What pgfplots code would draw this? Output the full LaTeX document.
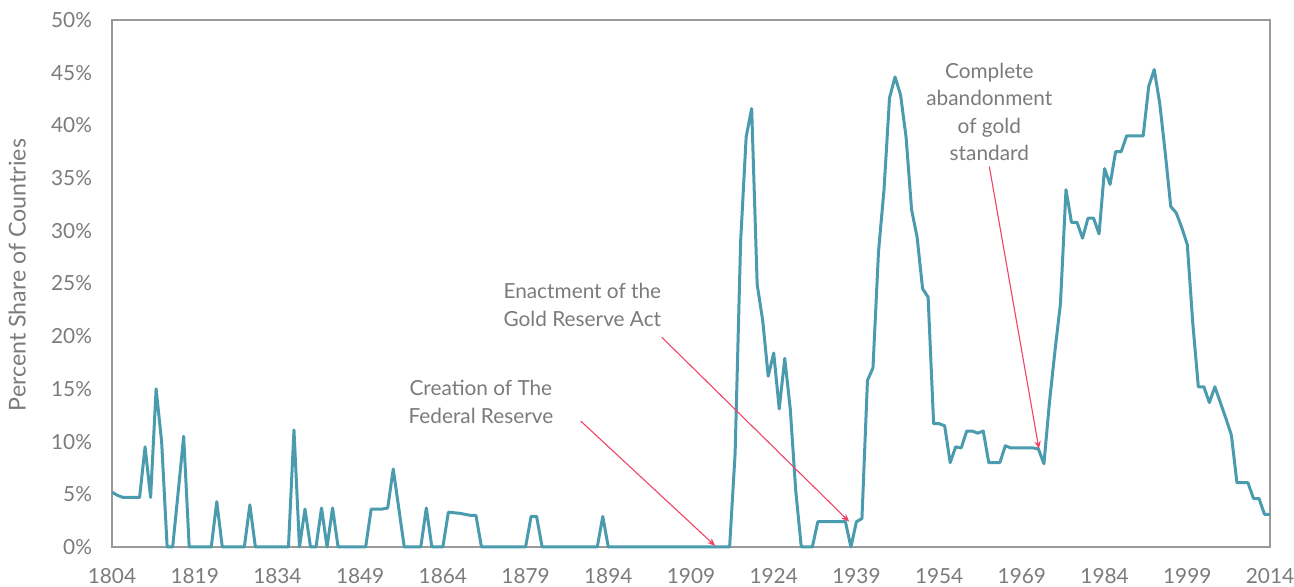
\documentclass[border=0pt]{standalone}
\usepackage{pgfplots}
\pgfplotsset{compat=1.18}
\usepackage{fontspec}
\setmainfont{Lato}
\usetikzlibrary{arrows.meta}
\definecolor{linec}{HTML}{4A9BAE}
\definecolor{arrc}{HTML}{EF4468}
\definecolor{txtc}{HTML}{7B7B7B}
\definecolor{framec}{HTML}{9A9A9A}
\begin{document}
\begin{tikzpicture}
\begin{axis}[
  at={(0,0)}, anchor=south west,
  scale only axis,
  width=579pt, height=263.5pt,
  xmin=1804, xmax=2014, ymin=0, ymax=50,
  xtick={1804,1819,...,2014},
  ytick={0,5,...,50},
  yticklabel={\pgfmathprintnumber{\tick}\%},
  /pgf/number format/assume math mode=true,
  /pgf/number format/1000 sep={},
  tick style={draw=none},
  axis line style={draw=framec, line width=0.6pt},
  ticklabel style={font=\fontsize{10.4}{12}\selectfont, text=txtc},
  xticklabel style={yshift=-7pt},
  yticklabel style={xshift=-6.5pt},
  ylabel={Percent Share of Countries},
  ylabel style={at={(axis description cs:-0.0818,0.516)}, anchor=center, font=\fontsize{11.6}{13}\selectfont, text=txtc},
  clip=false,
]
\addplot[linec, line width=1.5pt, line join=round] coordinates {
(1804,5.2)(1805,4.9)(1806,4.7)(1807,4.7)(1808,4.7)(1809,4.7)(1810,9.5)(1811,4.7)(1812,15.0)(1813,10.0)
(1814,0)(1815,0)(1816,5.2)(1817,10.5)(1818,0)(1819,0)(1820,0)(1821,0)(1822,0)(1823,4.3)
(1824,0)(1825,0)(1826,0)(1827,0)(1828,0)(1829,4.0)(1830,0)(1831,0)(1832,0)(1833,0)
(1834,0)(1835,0)(1836,0)(1837,11.1)(1838,0)(1839,3.6)(1840,0)(1841,0)(1842,3.7)(1843,0)
(1844,3.7)(1845,0)(1846,0)(1847,0)(1848,0)(1849,0)(1850,0)(1851,3.6)(1852,3.6)(1853,3.6)
(1854,3.7)(1855,7.4)(1856,3.7)(1857,0)(1858,0)(1859,0)(1860,0)(1861,3.7)(1862,0)(1863,0)
(1864,0)(1865,3.3)(1866,3.25)(1867,3.2)(1868,3.1)(1869,3.0)(1870,3.0)(1871,0)(1872,0)(1873,0)
(1874,0)(1875,0)(1876,0)(1877,0)(1878,0)(1879,0)(1880,2.9)(1881,2.9)(1882,0)(1883,0)
(1884,0)(1885,0)(1886,0)(1887,0)(1888,0)(1889,0)(1890,0)(1891,0)(1892,0)(1893,2.9)
(1894,0)(1895,0)(1896,0)(1897,0)(1898,0)(1899,0)(1900,0)(1901,0)(1902,0)(1903,0)
(1904,0)(1905,0)(1906,0)(1907,0)(1908,0)(1909,0)(1910,0)(1911,0)(1912,0)(1913,0)
(1914,0)(1915,0)(1916,0)(1917,8.9)(1918,29.0)(1919,38.9)(1920,41.6)(1921,24.9)(1922,21.5)(1923,16.2)
(1924,18.4)(1925,13.1)(1926,17.9)(1927,13.1)(1928,5.3)(1929,0)(1930,0)(1931,0)(1932,2.4)(1933,2.4)
(1934,2.4)(1935,2.4)(1936,2.4)(1937,2.4)(1938,0)(1939,2.4)(1940,2.7)(1941,15.8)(1942,17.0)(1943,28.0)
(1944,33.9)(1945,42.6)(1946,44.6)(1947,42.9)(1948,38.9)(1949,32.0)(1950,29.4)(1951,24.5)(1952,23.7)(1953,11.7)
(1954,11.7)(1955,11.5)(1956,8.0)(1957,9.5)(1958,9.4)(1959,11.0)(1960,11.0)(1961,10.8)(1962,11.0)(1963,8.0)
(1964,8.0)(1965,8.0)(1966,9.6)(1967,9.4)(1968,9.4)(1969,9.4)(1970,9.4)(1971,9.4)(1972,9.3)(1973,7.9)
(1974,13.7)(1975,18.6)(1976,23.1)(1977,33.9)(1978,30.8)(1979,30.8)(1980,29.3)(1981,31.2)(1982,31.2)(1983,29.7)
(1984,35.9)(1985,34.4)(1986,37.5)(1987,37.5)(1988,39.0)(1989,39.0)(1990,39.0)(1991,39.0)(1992,43.7)(1993,45.3)
(1994,42.1)(1995,37.4)(1996,32.3)(1997,31.7)(1998,30.3)(1999,28.7)(2000,21.2)(2001,15.2)(2002,15.2)(2003,13.7)
(2004,15.2)(2005,13.7)(2006,12.2)(2007,10.6)(2008,6.1)(2009,6.1)(2010,6.1)(2011,4.6)(2012,4.6)(2013,3.1)
(2014,3.1)
};
\draw[arrc, line width=0.55pt, -{Stealth[length=4pt,width=3.2pt]}] (axis cs:1889.0,11.95) -- (axis cs:1913.4,0.1);
\draw[arrc, line width=0.55pt, -{Stealth[length=4pt,width=3.2pt]}] (axis cs:1903.7,19.9) -- (axis cs:1937.7,2.4);
\draw[arrc, line width=0.55pt, -{Stealth[length=4pt,width=3.2pt]}] (axis cs:1963.1,36.1) -- (axis cs:1972.1,9.3);
\node[text=txtc, align=center, font=\fontsize{10.4}{13.75}\selectfont] at (axis cs:1870.9,13.75) {Creation of The\\Federal Reserve};
\node[text=txtc, align=center, font=\fontsize{10.4}{13.75}\selectfont] at (axis cs:1889.3,22.96) {Enactment of the\\Gold Reserve Act};
\node[text=txtc, align=center, font=\fontsize{10.4}{13.75}\selectfont] at (axis cs:1963.1,41.3) {Complete\\abandonment\\of gold\\standard};
\end{axis}
\pgfresetboundingbox
\useasboundingbox (-56pt,-20pt) rectangle (591pt,273.5pt);
\end{tikzpicture}
\end{document}
